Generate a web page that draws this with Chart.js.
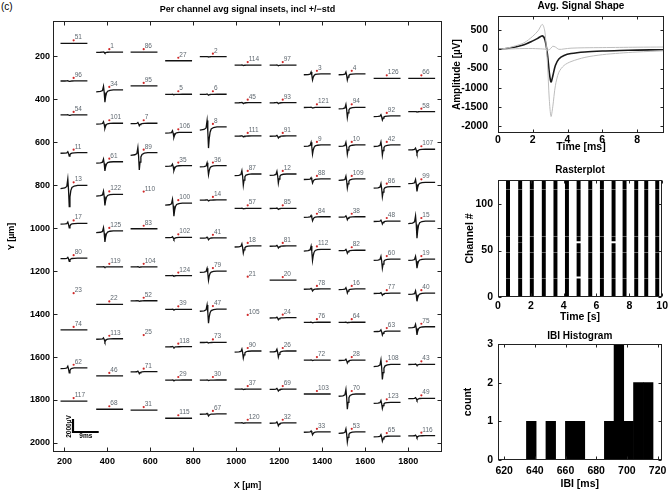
<!DOCTYPE html>
<html><head><meta charset="utf-8">
<script src="https://cdn.jsdelivr.net/npm/chart.js@4.4.1/dist/chart.umd.min.js"></script>
<style>
html,body{margin:0;padding:0;background:#fff;width:671px;height:493px;overflow:hidden;}
.box{position:absolute;}
#tag{position:absolute;left:1px;top:1px;font:10px "Liberation Sans",Arial,sans-serif;color:#000;}
</style></head><body>
<div id="tag">(c)</div>
<div class="box" style="left:0;top:0;width:460px;height:493px"><canvas id="main"></canvas></div>
<div class="box" style="left:440px;top:0;width:231px;height:160px"><canvas id="avg"></canvas></div>
<div class="box" style="left:455px;top:160px;width:216px;height:170px"><canvas id="raster"></canvas></div>
<div class="box" style="left:455px;top:330px;width:216px;height:163px"><canvas id="hist"></canvas></div>
<script>
// ---------------- DATA ----------------
// Main panel: electrode grid (rows of 11), positions in µm
const colX = [243, 409, 569, 730, 891, 1053, 1216, 1375, 1537, 1700, 1861];
const chanIds = [
  [51, 1, 86, 27, 2, 114, 97, 3, 4, 126, 66],
  [96, 34, 95, 5, 6, 45, 93, 121, 94, 92, 58],
  [54, 101, 7, 106, 8, 111, 91, 9, 10, 42, 107],
  [11, 61, 89, 35, 36, 87, 12, 88, 109, 86, 99],
  [13, 122, 110, 100, 14, 57, 85, 84, 38, 48, 15],
  [17, 125, 83, 102, 41, 18, 81, 112, 82, 60, 19],
  [80, 119, 104, 124, 79, 21, 20, 78, 16, 77, 40],
  [23, 22, 52, 39, 47, 105, 24, 76, 64, 63, 75],
  [74, 113, 25, 118, 73, 90, 26, 72, 28, 108, 43],
  [62, 46, 71, 29, 30, 37, 69, 103, 70, 123, 49],
  [117, 68, 31, 115, 67, 120, 32, 33, 53, 65, 116]
];
const chanY = [
  [126, 167, 167, 207, 188, 227, 227, 268, 268, 289, 289],
  [301, 343, 324, 363, 363, 402, 402, 424, 424, 464, 444],
  [459, 498, 498, 540, 515, 557, 557, 599, 599, 599, 619],
  [635, 677, 635, 695, 695, 734, 734, 757, 757, 793, 773],
  [787, 829, 830, 870, 855, 894, 894, 933, 933, 953, 953],
  [964, 999, 989, 1029, 1031, 1069, 1069, 1085, 1089, 1130, 1130],
  [1126, 1166, 1166, 1207, 1186, 1226, 1228, 1269, 1269, 1289, 1289],
  [1303, 1341, 1324, 1364, 1363, 1404, 1403, 1424, 1424, 1465, 1445],
  [1460, 1501, 1498, 1538, 1518, 1558, 1558, 1600, 1600, 1620, 1620],
  [1636, 1674, 1654, 1693, 1693, 1735, 1735, 1758, 1758, 1797, 1778],
  [1791, 1829, 1833, 1871, 1851, 1892, 1892, 1934, 1934, 1954, 1952]
];
// spike trough depth per channel (µV); null = no signal drawn
const chanAmp = [
  [0, 150, 0, 0, 50, 80, 110, 930, 930, 0, 0],
  [80, 1860, 0, 50, 150, 150, 150, 110, 1550, 620, 50],
  [80, 775, 390, 775, 3250, 150, 310, 1400, 1400, 1550, 620],
  [540, 1400, 2640, 775, 1400, 1700, 1400, 620, 1400, 1550, 1400],
  [3250, 1700, null, 2000, 150, 80, 150, 620, 465, 465, 2640],
  [700, 1700, 0, 310, 310, 1085, 310, 1700, 465, 1400, 1400],
  [465, 80, 80, 80, 1400, null, 0, 310, 620, 310, 1240],
  [null, 0, 80, 80, 2170, null, 310, 80, 80, 620, 1240],
  [0, 465, null, 150, 80, 1085, 930, 80, 465, 2325, 150],
  [775, 0, 310, 80, 80, 80, 310, 0, 2325, 930, 310],
  [0, 0, 0, 0, 310, 80, 465, 465, 1550, 775, 310]
];
// normalised inset waveform (time in ms, value relative to trough depth)
const insetT     = [0, 1.5, 2.2, 2.55, 2.8, 3.05, 3.3, 3.6, 4.0, 4.8, 6.0, 9.4];
const insetShape = [-0.15, -0.12, -0.05, 0.3, -0.2, -1.0, -0.55, -0.25, -0.1, -0.03, 0, 0];
const xTicksMain = [200, 400, 600, 800, 1000, 1200, 1400, 1600, 1800];
const yTicksMain = [200, 400, 600, 800, 1000, 1200, 1400, 1600, 1800, 2000];
const scaleBarOrigin = [240, 1949]; // µm
const scaleBarUV = 2000, scaleBarMs = 9;

// Avg signal shape
const avgT    = [0, 0.5, 1, 1.5, 2, 2.3, 2.55, 2.7, 2.85, 2.95, 3.05, 3.15, 3.3, 3.5, 3.8, 4.2, 5, 6, 7, 8, 9.5];
const avgMean = [0, 20, 60, 120, 220, 290, 350, 250, -150, -600, -850, -700, -420, -250, -160, -110, -70, -45, -30, -20, -10];
const avgStdA = [0, 30, 90, 170, 340, 480, 650, 450, -400, -1300, -1750, -1500, -950, -600, -420, -320, -210, -140, -100, -70, -40];
const avgStdB = [0, 5, 15, 20, 20, 15, 10, 5, -20, -10, 30, 80, 60, 0, 10, 30, 40, 45, 50, 55, 60];
const avgXTicks = [0, 2, 4, 6, 8];
const avgYTicks = [-2000, -1500, -1000, -500, 0, 500];

// Rasterplot
const burstTimes = [0.61, 1.35, 2.06, 2.79, 3.50, 4.20, 4.91, 5.62, 6.33, 7.04, 7.71, 8.42, 9.03, 9.70];
const nChannels = 126;
const commonGapChannels = [20, 48, 65, 116];
const extraGapChannels = {1: [59], 6: [21, 22, 58, 59, 60], 9: [58, 59, 60]};
const rasterXTicks = [0, 2, 4, 6, 8, 10];
const rasterYTicks = [0, 50, 100];

// IBI histogram
const ibiBinCenters = [637.7, 644.0, 650.4, 656.7, 663.1, 669.4, 675.8, 682.1, 688.5, 694.8, 701.2, 707.5, 713.9];
const ibiCounts     = [1, 0, 1, 0, 1, 1, 0, 0, 1, 3, 1, 2, 2];
const histXTicks = [620, 640, 660, 680, 700, 720];
const histYTicks = [0, 1, 2, 3];

// ---------------- RENDER ----------------
const FONT = '"Liberation Sans", Arial, Helvetica, sans-serif';
const UM_PER_MS = 13.3, UM_PER_UV = 0.0303, DOT_ABOVE = 14, INSET_START = -61;

const fmt = v => (v < 0 ? '-' + Math.abs(v) : String(v));

const boxPlugin = {
  id: 'boxPlugin',
  afterDatasetsDraw(chart, args, o) {
    const {ctx, chartArea: a, scales} = chart;
    ctx.save();
    ctx.strokeStyle = '#222'; ctx.lineWidth = 1;
    const L = Math.round(a.left) + 0.5, R = Math.round(a.right) - 0.5, T = Math.round(a.top) + 0.5, B = Math.round(a.bottom) - 0.5;
    ctx.strokeRect(L, T, R - L, B - T);
    const len = o.tick || 4;
    ctx.beginPath();
    scales.x.ticks.forEach(t => {
      const p = Math.round(scales.x.getPixelForValue(t.value)) + 0.5;
      ctx.moveTo(p, B); ctx.lineTo(p, B - len); ctx.moveTo(p, T); ctx.lineTo(p, T + len);
    });
    scales.y.ticks.forEach(t => {
      const p = Math.round(scales.y.getPixelForValue(t.value)) + 0.5;
      ctx.moveTo(L, p); ctx.lineTo(L + len, p); ctx.moveTo(R, p); ctx.lineTo(R - len, p);
    });
    ctx.stroke();
    if (o.title) {
      ctx.fillStyle = '#000';
      ctx.font = o.titleFont;
      ctx.textAlign = 'center'; ctx.textBaseline = 'middle';
      ctx.fillText(o.title, (a.left + a.right) / 2, o.titleY);
    }
    if (o.extra) o.extra(chart);
    ctx.restore();
  }
};

function axis(ticksArr, min, max, opts) {
  return Object.assign({
    type: 'linear', min, max,
    grid: {display: false, drawTicks: false, tickLength: 0}, border: {display: false},
    afterBuildTicks: s => { s.ticks = ticksArr.map(v => ({value: v})); },
    ticks: {font: {family: FONT, size: opts.fs, weight: 'bold'}, color: '#000', padding: opts.pad, maxRotation: 0, autoSkip: false, callback: v => fmt(v)},
    title: {display: true, text: opts.title, color: '#000', font: {family: FONT, size: opts.tfs, weight: 'bold', lineHeight: 1}, padding: opts.tpad}
  }, opts.extra || {});
}

// main panel datasets
const wave = [], dots = [], labels = [];
chanIds.forEach((row, r) => row.forEach((id, c) => {
  const x = colX[c], y = chanY[r][c];
  dots.push({x, y});
  labels.push({x, y, id});
  const A = chanAmp[r][c];
  if (A === null) return;
  const base = y + DOT_ABOVE;
  insetT.forEach((t, i) => wave.push({x: x + INSET_START + t * UM_PER_MS, y: base - A * insetShape[i] * UM_PER_UV}));
  wave.push({x: x + INSET_START + 9.4 * UM_PER_MS, y: null});
}));
const [sbx, sby] = scaleBarOrigin;
const scaleBar = [{x: sbx, y: sby - scaleBarUV * UM_PER_UV}, {x: sbx, y: sby}, {x: sbx + scaleBarMs * UM_PER_MS, y: sby}];

new Chart(document.getElementById('main'), {
  type: 'scatter',
  data: {datasets: [
    {data: wave, showLine: true, borderColor: '#111', borderWidth: 1.3, pointRadius: 0, spanGaps: false},
    {data: scaleBar, showLine: true, borderColor: '#000', borderWidth: 2.2, pointRadius: 0},
    {data: dots, pointRadius: 1.1, backgroundColor: '#d02828', borderWidth: 0}
  ]},
  options: {
    animation: false, responsive: true, maintainAspectRatio: false,
    layout: {padding: {left: 0, top: 21, right: 18, bottom: 0}},
    plugins: {legend: {display: false}, tooltip: {enabled: false},
      boxPlugin: {tick: 4, title: 'Per channel avg signal insets, incl +/\u2212std', titleY: 10, titleFont: 'bold 9px ' + FONT,
        extra: (chart) => {
          const {ctx, scales: {x: xs, y: ys}} = chart;
          ctx.font = '6.5px ' + FONT; ctx.fillStyle = '#5f6870';
          ctx.textAlign = 'left'; ctx.textBaseline = 'bottom';
          labels.forEach(l => ctx.fillText(String(l.id), xs.getPixelForValue(l.x) + 1, ys.getPixelForValue(l.y) + 0.5));
          ctx.fillStyle = '#000'; ctx.font = 'bold 6.5px ' + FONT;
          const px = xs.getPixelForValue(sbx), py0 = ys.getPixelForValue(sby), py1 = ys.getPixelForValue(sby - scaleBarUV * UM_PER_UV);
          ctx.save(); ctx.translate(px - 4, (py0 + py1) / 2 + 1); ctx.rotate(-Math.PI / 2);
          ctx.textAlign = 'center'; ctx.textBaseline = 'middle'; ctx.fillText(scaleBarUV + '\u00b5V', 0, 0); ctx.restore();
          ctx.textAlign = 'center'; ctx.textBaseline = 'top';
          ctx.fillText(scaleBarMs + 'ms', (px + xs.getPixelForValue(sbx + scaleBarMs * UM_PER_MS)) / 2, py0 + 1);
        }}},
    scales: {
      x: axis(xTicksMain, 147, 1957, {fs: 9, pad: 4, title: 'X [\u00b5m]', tfs: 9, tpad: {top: 0, bottom: 2.5}, extra: {afterFit: s => { s.height = 41; }}}),
      y: axis(yTicksMain, 36, 2042, {fs: 9, pad: 3, title: 'Y [\u00b5m]', tfs: 9, tpad: {top: 7.5, bottom: 0}, extra: {reverse: true, afterFit: s => { s.width = 53; }}})
    }
  },
  plugins: [boxPlugin]
});

// Avg signal shape
const pts = arr => avgT.map((t, i) => ({x: t, y: arr[i]}));
new Chart(document.getElementById('avg'), {
  type: 'scatter',
  data: {datasets: [
    {data: pts(avgStdA), showLine: true, borderColor: '#bdbdbd', borderWidth: 1, pointRadius: 0, tension: 0.3},
    {data: pts(avgStdB), showLine: true, borderColor: '#bdbdbd', borderWidth: 1, pointRadius: 0, tension: 0.3},
    {data: pts(avgMean), showLine: true, borderColor: '#1a1a1a', borderWidth: 1.6, pointRadius: 0, tension: 0.3}
  ]},
  options: {
    animation: false, responsive: true, maintainAspectRatio: false,
    layout: {padding: {left: 0, top: 15, right: 7, bottom: 0}},
    plugins: {legend: {display: false}, tooltip: {enabled: false},
      boxPlugin: {tick: 3, title: 'Avg. Signal Shape', titleY: 6.5, titleFont: 'bold 10px ' + FONT}},
    scales: {
      x: axis(avgXTicks, 0, 9.55, {fs: 10.5, pad: 1, title: 'Time [ms]', tfs: 10.5, tpad: {top: 0, bottom: 7.25}, extra: {afterFit: s => { s.height = 27; }}}),
      y: axis(avgYTicks, -2180, 860, {fs: 10.5, pad: 10, title: 'Amplitude [\u00b5V]', tfs: 10, tpad: {top: 12, bottom: 0}, extra: {afterFit: s => { s.width = 58; }}})
    }
  },
  plugins: [boxPlugin]
});

// Rasterplot: floating bars per burst, split at silent channels
const rasterBars = [];
burstTimes.forEach((t, b) => {
  const gaps = commonGapChannels.concat(extraGapChannels[b] || []).sort((p, q) => p - q);
  let lo = 0;
  gaps.forEach(g => { if (g - 0.5 > lo) rasterBars.push({x: t, y: [lo, g - 0.5]}); lo = g + 0.5; });
  rasterBars.push({x: t, y: [lo, nChannels]});
});
new Chart(document.getElementById('raster'), {
  type: 'bar',
  data: {datasets: [{data: rasterBars, backgroundColor: '#000', borderWidth: 0, barThickness: 3.3, grouped: false}]},
  options: {
    animation: false, responsive: true, maintainAspectRatio: false,
    layout: {padding: {left: 0, top: 20, right: 8, bottom: 0}},
    plugins: {legend: {display: false}, tooltip: {enabled: false},
      boxPlugin: {tick: 3, title: 'Rasterplot', titleY: 10, titleFont: 'bold 10px ' + FONT}},
    scales: {
      x: axis(rasterXTicks, 0, 10, {fs: 10.5, pad: 3, title: 'Time [s]', tfs: 10.5, tpad: {top: 0, bottom: 8}, extra: {offset: false, afterFit: s => { s.height = 33; }}}),
      y: axis(rasterYTicks, 0, nChannels, {fs: 10.5, pad: 5, title: 'Channel #', tfs: 10.5, tpad: {top: 9.75, bottom: 0}, extra: {afterFit: s => { s.width = 43; }}})
    }
  },
  plugins: [boxPlugin]
});

// IBI histogram
new Chart(document.getElementById('hist'), {
  type: 'bar',
  data: {datasets: [{data: ibiBinCenters.map((c, i) => ({x: c, y: ibiCounts[i]})), backgroundColor: '#000', borderWidth: 0, barPercentage: 1, categoryPercentage: 1, grouped: false}]},
  options: {
    animation: false, responsive: true, maintainAspectRatio: false,
    layout: {padding: {left: 0, top: 14, right: 8, bottom: 0}},
    plugins: {legend: {display: false}, tooltip: {enabled: false},
      boxPlugin: {tick: 3, title: 'IBI Histogram', titleY: 6, titleFont: 'bold 10px ' + FONT}},
    scales: {
      x: axis(histXTicks, 616, 722.6, {fs: 10.5, pad: 4.5, title: 'IBI [ms]', tfs: 10.5, tpad: {top: 0, bottom: 3.5}, extra: {offset: false, afterFit: s => { s.height = 33; }}}),
      y: axis(histYTicks, 0, 3, {fs: 10.5, pad: 5, title: 'count', tfs: 10.5, tpad: {top: 7.75, bottom: 0}, extra: {afterFit: s => { s.width = 43; }}})
    }
  },
  plugins: [boxPlugin]
});
</script>
</body></html>
